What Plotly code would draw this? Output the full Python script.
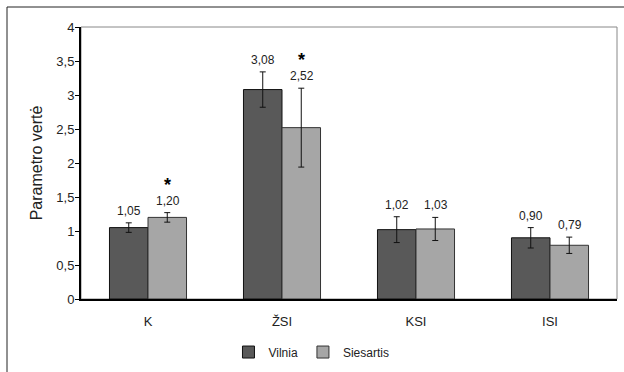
import plotly.graph_objects as go

categories = ["K", "ŽSI", "KSI", "ISI"]
vilnia = [1.05, 3.08, 1.02, 0.90]
vilnia_err = [0.07, 0.26, 0.19, 0.15]
siesartis = [1.20, 2.52, 1.03, 0.79]
siesartis_err = [0.07, 0.58, 0.17, 0.12]
vilnia_labels = ["1,05", "3,08", "1,02", "0,90"]
siesartis_labels = ["1,20", "2,52", "1,03", "0,79"]
significant = [True, True, False, False]
y_ticks = [0, 0.5, 1, 1.5, 2, 2.5, 3, 3.5, 4]
y_tick_labels = ["0", "0,5", "1", "1,5", "2", "2,5", "3", "3,5", "4"]

FONT = "Liberation Sans Narrow, Arial Narrow, Liberation Sans, Arial"

fig = go.Figure()
fig.add_trace(go.Bar(
    name="Vilnia", x=categories, y=vilnia,
    marker=dict(color="#595959", line=dict(color="#111111", width=1)),
    error_y=dict(type="data", array=vilnia_err, color="#111111", thickness=1, width=3),
))
fig.add_trace(go.Bar(
    name="Siesartis", x=categories, y=siesartis,
    marker=dict(color="#a6a6a6", line=dict(color="#333333", width=1)),
    error_y=dict(type="data", array=siesartis_err, color="#111111", thickness=1, width=3),
))

annotations = []
for i, c in enumerate(categories):
    annotations.append(dict(x=c, y=vilnia[i] + vilnia_err[i], xref="x", yref="y",
                            text=vilnia_labels[i], showarrow=False, xshift=-19.5,
                            yanchor="bottom", yshift=3, font=dict(size=12, color="#222")))
    annotations.append(dict(x=c, y=siesartis[i] + siesartis_err[i], xref="x", yref="y",
                            text=siesartis_labels[i], showarrow=False, xshift=19.5,
                            yanchor="bottom", yshift=3, font=dict(size=12, color="#222")))
    if significant[i]:
        annotations.append(dict(x=c, y=siesartis[i] + siesartis_err[i], xref="x", yref="y",
                                text="<b>*</b>", showarrow=False, xshift=19.5,
                                yanchor="bottom", yshift=16, font=dict(size=18, color="#000")))

fig.update_layout(
    width=624, height=372,
    margin=dict(l=81, r=7, t=27, b=73, autoexpand=False),
    paper_bgcolor="white", plot_bgcolor="white",
    font=dict(family=FONT, size=12, color="#222"),
    barmode="group", bargap=0.425, bargroupgap=0,
    showlegend=True,
    legend=dict(orientation="h", x=0.43, xanchor="center", y=-0.195, yanchor="middle",
                font=dict(size=12), tracegroupgap=0, itemwidth=30),
    annotations=annotations,
    shapes=[
        dict(type="rect", xref="paper", yref="paper", x0=0, x1=1, y0=0, y1=1,
             line=dict(color="#888888", width=1), layer="below"),
        dict(type="line", xref="paper", yref="paper", x0=-(81 - 7) / 536, x1=1 + 10 / 536,
             y0=1 + 20 / 272, y1=1 + 20 / 272, line=dict(color="#222", width=1)),
        dict(type="line", xref="paper", yref="paper", x0=-(81 - 7) / 536, x1=-(81 - 7) / 536,
             y0=1 + 20 / 272, y1=-80 / 272, line=dict(color="#222", width=1)),
    ],
)
fig.update_xaxes(showline=True, linecolor="#000", linewidth=2, ticks="",
                 tickfont=dict(size=13), showgrid=False, automargin=False,
                 ticklabelstandoff=9)
fig.update_yaxes(range=[0, 4], tickvals=y_ticks, ticktext=y_tick_labels,
                 showline=True, linecolor="#000", linewidth=2, ticks="outside",
                 ticklen=4, tickcolor="#000", showgrid=False, zeroline=False,
                 tickfont=dict(size=13), automargin=False, ticklabelstandoff=-2,
                 title=dict(text="Parametro vertė", font=dict(size=16), standoff=10))

fig.write_html("out.html", post_script="document.body.style.margin='0';",
               config={"displayModeBar": False})
